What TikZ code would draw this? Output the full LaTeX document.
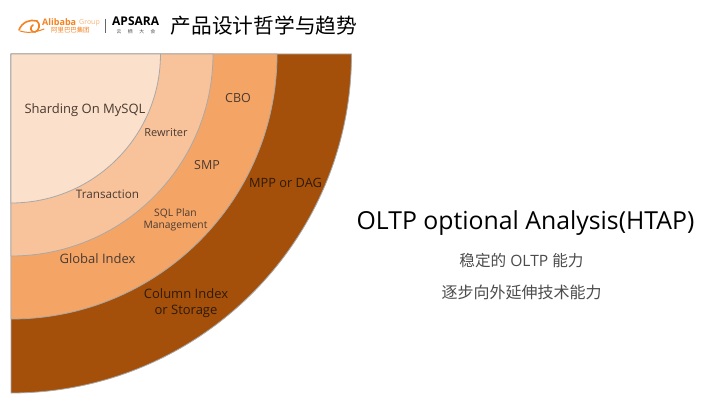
\documentclass[tikz,border=0pt]{standalone}
\usepackage{fontspec}
\setmainfont{Open Sans}
\newfontfamily\cjk{Noto Sans CJK SC}
\definecolor{ringA}{HTML}{FBE0CB}
\definecolor{ringB}{HTML}{F8C39B}
\definecolor{ringC}{HTML}{F4A566}
\definecolor{ringD}{HTML}{A5500A}
\definecolor{ringLine}{HTML}{A8A8A8}
\definecolor{labelInk}{HTML}{4A3A30}
\definecolor{labelDark}{HTML}{2E1A08}
\definecolor{logoOrange}{HTML}{F5811F}
\tikzset{
  ring/.style={draw=ringLine,line width=0.8pt},
  lab/.style={text=labelInk,inner sep=0pt,align=center,font=\fontsize{#1}{#1}\selectfont},
  labd/.style={text=labelDark,inner sep=0pt,align=center,font=\fontsize{#1}{#1}\selectfont},
}
\begin{document}
\begin{tikzpicture}[x=1pt,y=-1pt]
\useasboundingbox (0,0) rectangle (720,404);
\fill[white] (0,0) rectangle (720,404);
% rings
\draw[ring,fill=ringD,draw=ringLine] (11,54) -- (351.5,54) arc[start angle=0,end angle=90,x radius=340.5pt,y radius=-339pt] -- cycle;
\draw[ring,fill=ringC] (11,54) -- (277,54) arc[start angle=0,end angle=90,x radius=266pt,y radius=-265pt] -- cycle;
\draw[ring,fill=ringB] (11,54) -- (213,54) arc[start angle=0,end angle=90,x radius=202pt,y radius=-202pt] -- cycle;
\draw[ring,fill=ringA] (11,54) -- (160.5,54) arc[start angle=0,end angle=90,x radius=149.5pt,y radius=-149pt] -- cycle;
% ring labels
\node[lab=13] (sharding) at (85,110) {Sharding On MySQL};
\node[lab=11] (rewriter) at (166,133) {Rewriter};
\node[lab=11.7] (transaction) at (107.5,194) {Transaction};
\node[lab=12.5] (cbo) at (238,98) {CBO};
\node[lab=12.5] (smp) at (207,165.5) {SMP};
\node[lab=10.3] (plan) at (175.5,220) {SQL Plan\\[2pt]Management};
\node[lab=13] (global) at (97.5,259) {Global Index};
\node[labd=12.8] (mpp) at (285.5,183) {MPP or DAG};
\node[labd=13] (column) at (186,303.5) {Column Index\\[3pt]or Storage};
% right text
\node[text=black,inner sep=0pt,font=\fontsize{24.8}{24.8}\selectfont] (headline) at (525.5,223) {OLTP optional Analysis(HTAP)};
\node[text=black!70,inner sep=0pt,font=\fontsize{15.6}{15.6}\selectfont] (lineA) at (521.5,261) {{\cjk 稳定的} OLTP {\cjk 能力}};
\node[text=black!70,inner sep=0pt,font=\fontsize{16}{16}\cjk\selectfont] (lineB) at (521.5,292) {逐步向外延伸技术能力};
% header
\node[text=black,inner sep=0pt,font=\fontsize{20.7}{20.7}\cjk\selectfont] (title) at (264,26) {产品设计哲学与趋势};
\draw[logoOrange,line width=1.6pt,line cap=round] (19,30) .. controls (22,22) and (30,19) .. (37,21) .. controls (41,24) and (39,31) .. (35,32) .. controls (31,33) and (29,27) .. (33,25);
\draw[logoOrange,line width=1pt,line cap=round] (20,31) .. controls (26,33) and (34,33) .. (44,29);
\node[text=logoOrange,inner sep=0pt,font=\bfseries\fontsize{9}{9}\selectfont,anchor=west] (ali) at (42,22.5) {Alibaba};
\node[text=logoOrange!60,inner sep=0pt,font=\fontsize{7}{7}\selectfont,anchor=west] (grp) at (79,22.5) {Group};
\node[text=logoOrange,inner sep=0pt,font=\fontsize{6.4}{6.4}\cjk\selectfont,anchor=west] (alicn) at (51,30.5) {阿里巴巴集团};
\draw[black!60,line width=0.7pt] (105.5,19) -- (105.5,33);
\node[text=black,inner sep=0pt,font=\bfseries\fontsize{12}{12}\selectfont,anchor=west] (aps) at (112,21.5) {APSARA};
\node[text=black!70,inner sep=0pt,font=\fontsize{4.8}{4.8}\cjk\selectfont] (yq) at (136,31.5) {云\hspace{6.5pt}栖\hspace{6.5pt}大\hspace{6.5pt}会};
\end{tikzpicture}
\end{document}
